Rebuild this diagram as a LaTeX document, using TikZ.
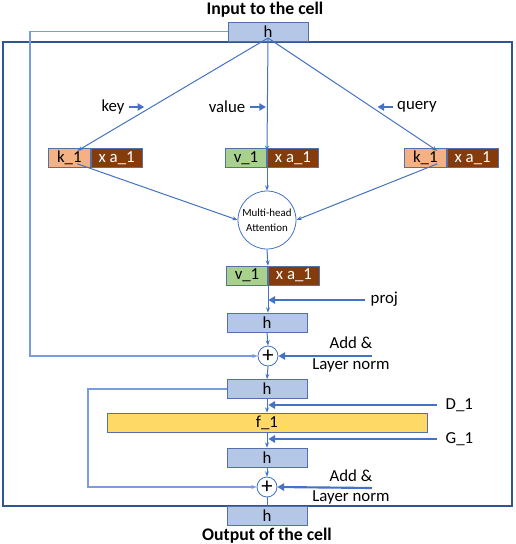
\documentclass[tikz,border=0pt]{standalone}
\usepackage{fontspec}
\setmainfont{Carlito}
\usetikzlibrary{arrows.meta, positioning}

\definecolor{lineblue}{RGB}{68,114,196}
\definecolor{frameblue}{RGB}{47,85,151}
\definecolor{skipblue}{RGB}{122,156,222}
\definecolor{boxline}{RGB}{84,112,170}
\definecolor{hfill}{RGB}{180,199,231}
\definecolor{kfill}{RGB}{244,177,131}
\definecolor{xafill}{RGB}{132,60,12}
\definecolor{vfill}{RGB}{169,209,142}
\definecolor{ffill}{RGB}{255,217,102}

\newcommand{\lbl}{\fontsize{12.6}{14}\selectfont}

\tikzset{
    cellbox/.style={draw=boxline, line width=0.5pt, inner sep=0pt, minimum height=14.25pt, font=\lbl},
    hbox/.style={cellbox, fill=hfill, minimum width=60pt},
    kbox/.style={cellbox, fill=kfill, minimum width=31.5pt},
    vbox/.style={cellbox, fill=vfill, minimum width=31pt},
    xabox/.style={cellbox, fill=xafill, text=white, minimum width=38.5pt},
    link/.style={draw=lineblue, line width=0.75pt, -{Stealth[length=4pt,width=3pt]}},
    feed/.style={draw=lineblue, line width=1.6pt, -{Triangle[length=5pt,width=5.5pt]}},
    skip/.style={draw=skipblue, line width=1.2pt, -{Stealth[length=4pt,width=3pt]}},
}

\begin{document}
\begin{tikzpicture}[x=0.75pt,y=0.75pt,yscale=-1,xscale=1]
    \useasboundingbox (0,0) rectangle (516,544);
    % frame of the cell
    \draw [frameblue, line width=2pt] (3,42) rectangle (512,506);

    % titles
    \node (intitle) at (265,10) {\fontsize{13.3}{15}\selectfont\bfseries Input to the cell};
    \node (outtitle) at (267,536) {\fontsize{13.3}{15}\selectfont\bfseries Output of the cell};

    % input
    \node [hbox] (hin) at (268,31.5) {h};
    \coordinate (apex) at ([yshift=-2.5pt]hin.south);

    % key, value, query
    \node [kbox, anchor=west] (k1L) at (48,158) {k\_1};
    \node [xabox, right=0pt of k1L] (xaL) {x a\_1};
    \node [vbox, anchor=west] (v1) at (225,158) {v\_1};
    \node [xabox, right=0pt of v1] (xaM) {x a\_1};
    \node [kbox, anchor=west] (k1R) at (404,158) {k\_1};
    \node [xabox, right=0pt of k1R] (xaR) {x a\_1};

    \draw [link] (apex) -- ([xshift=6pt,yshift=2pt]k1L.north);
    \draw [link] (apex) -- ([yshift=2pt]v1.north east);
    \draw [link] (apex) -- ([xshift=9pt,yshift=2pt]k1R.north);

    \node [font=\lbl] (keylbl) at (113,107) {key};
    \node [font=\lbl] (vallbl) at (227,107) {value};
    \node [font=\lbl] (qrylbl) at (417,107) {query};
    \draw [feed] (keylbl.east) -- ++(15,0);
    \draw [feed] (vallbl.east) -- ++(16,0);
    \draw [feed] (qrylbl.west) -- ++(-15,0);

    % attention
    \node [circle, draw=lineblue, line width=0.6pt, minimum size=43.5pt, inner sep=0pt, align=center,
           font=\fontsize{8.2}{11}\selectfont] (att) at (267,220) {Multi-head\\Attention};
    \draw [link] ([xshift=6pt,yshift=-3pt]k1L.south) -- (att.west);
    \draw [link] ([xshift=9pt,yshift=-3pt]k1R.south) -- (att.east);
    \draw [link] (v1.south east) -- (att.north);

    \node [vbox, anchor=west] (v2) at (226,275.5) {v\_1};
    \node [xabox, right=0pt of v2] (xa2) {x a\_1};
    \draw [link] (att.south) -- (v2.north east);

    % projection
    \node [hbox] (h2) at (267,322.5) {h};
    \draw [link] (v2.south east) -- (v2.south east |- h2.north);
    \coordinate (projin) at (365,300);
    \node [font=\lbl, anchor=west] (projlbl) at (366,299) {proj};
    \draw [feed] (projin) -- ([xshift=1pt]projin -| h2.north);

    % first add & norm
    \node [circle, draw=lineblue, line width=0.6pt, fill=white, minimum size=15pt, inner sep=0pt,
           font=\fontsize{17}{17}\selectfont] (plus1) at (268,356) {+};
    \draw [link] (h2.south) -- (plus1.north);
    \coordinate (addin1) at (372,356);
    \draw [feed] (addin1) -- (plus1.east);
    \node [font=\lbl] (add1) at (351,343) {Add \&};
    \node [font=\lbl] (norm1) at (351,365) {Layer norm};
    \draw [skip] (hin.west) -- (30,31.5) |- (plus1.west);

    \node [hbox] (h3) at (267,389) {h};
    \draw [link] (plus1.south) -- (h3.north);

    % feed forward
    \node [cellbox, fill=ffill, minimum width=240pt] (f1) at (267,422.5) {f\_1};
    \draw [link] (h3.south) -- (f1.north);
    \coordinate (din) at (437,405);
    \node [font=\lbl, anchor=west] (dlbl) at (441,405) {D\_1};
    \draw [feed] (din) -- ([xshift=1pt]din -| f1.north);

    \node [hbox] (h4) at (267,457.5) {h};
    \draw [link] (f1.south) -- (h4.north);
    \coordinate (gin) at (437,439);
    \node [font=\lbl, anchor=west] (glbl) at (441,439) {G\_1};
    \draw [feed] (gin) -- ([xshift=1pt]gin -| h4.north);

    % second add & norm
    \node [circle, draw=lineblue, line width=0.6pt, fill=white, minimum size=15pt, inner sep=0pt,
           font=\fontsize{17}{17}\selectfont] (plus2) at (267,487) {+};
    \draw [link] (h4.south) -- (plus2.north);
    \coordinate (addin2) at (372,488);
    \draw [feed] (addin2) -- (plus2.east);
    \node [font=\lbl] (add2) at (351,476) {Add \&};
    \node [font=\lbl] (norm2) at (351,497) {Layer norm};
    \draw [skip] (h3.west) -- (88,389) |- (plus2.west);

    % output
    \node [hbox] (hout) at (267,515.5) {h};
    \draw [lineblue, line width=0.75pt] (plus2.south) -- (hout.north);
\end{tikzpicture}
\end{document}
